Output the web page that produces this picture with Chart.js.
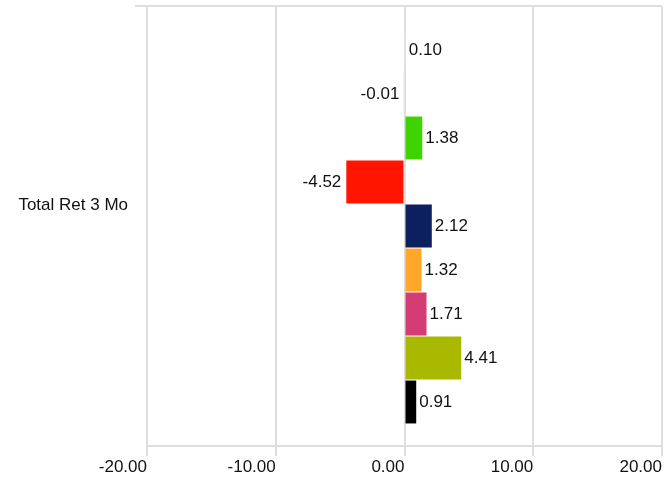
<!DOCTYPE html>
<html>
<head>
<meta charset="utf-8">
<script src="https://cdn.jsdelivr.net/npm/chart.js@4/dist/chart.umd.min.js"></script>
<style>
  html, body { margin: 0; padding: 0; background: #fff; }
  #wrap { width: 664px; height: 479px; }
</style>
</head>
<body>
<div id="wrap"><canvas id="retChart"></canvas></div>
<script>
// --- Data ---
const categories = ['Total Ret 3 Mo'];
const seriesValues = [0.10, -0.01, 1.38, -4.52, 2.12, 1.32, 1.71, 4.41, 0.91];
const seriesColors = ['#e6ecf4', '#e8e8e8', '#3fd400', '#ff1500', '#0c1f5e', '#ffa726', '#d43c74', '#a8b900', '#000000'];
const xTicks = [-20, -10, 0, 10, 20];

const FONT = "'Liberation Sans', Arial, sans-serif";
const TEXT = '#111111';

// --- Value labels next to each bar end ---
const valueLabels = {
    id: 'valueLabels',
    afterDatasetsDraw(chart) {
        const ctx = chart.ctx;
        ctx.save();
        ctx.font = '17px ' + FONT;
        ctx.fillStyle = TEXT;
        ctx.textBaseline = 'middle';
        chart.data.datasets.forEach((ds, i) => {
            const bar = chart.getDatasetMeta(i).data[0];
            const v = ds.data[0];
            if (v >= 0) {
                ctx.textAlign = 'left';
                ctx.fillText(v.toFixed(2), bar.x + 3, bar.y);
            } else {
                ctx.textAlign = 'right';
                ctx.fillText(v.toFixed(2), bar.x - 5, bar.y);
            }
        });
        ctx.restore();
    }
};

const datasets = seriesValues.map((v, i) => ({
    label: 'S' + (i + 1),
    data: [v],
    backgroundColor: seriesColors[i],
    borderWidth: 0,
    barPercentage: 0.975,
    categoryPercentage: 0.9
}));

new Chart(document.getElementById('retChart'), {
    type: 'bar',
    data: { labels: categories, datasets: datasets },
    options: {
        indexAxis: 'y',
        responsive: true,
        maintainAspectRatio: false,
        animation: false,
        layout: { padding: { left: 18, top: 6, right: 2, bottom: 0 } },
        plugins: {
            legend: { display: false },
            tooltip: { enabled: false }
        },
        scales: {
            x: {
                min: xTicks[0],
                max: xTicks[xTicks.length - 1],
                afterBuildTicks: (scale) => { scale.ticks = xTicks.map(v => ({ value: v })); },
                afterFit: (scale) => { scale.height = 33; scale.paddingLeft = 0; scale.paddingRight = 0; },
                grid: { color: '#dedede', lineWidth: 2, tickLength: 10 },
                border: { display: false },
                ticks: {
                    align: 'end',
                    padding: 1,
                    color: TEXT,
                    font: { family: FONT, size: 17 },
                    callback: (v) => Number(v).toFixed(2)
                }
            },
            y: {
                afterFit: (scale) => { scale.width = 129; scale.paddingTop = 0; scale.paddingBottom = 0; },
                grid: {
                    color: '#dedede',
                    lineWidth: 2,
                    tickLength: 12,
                    tickColor: (c) => c.index === 0 ? '#dedede' : 'rgba(0,0,0,0)'
                },
                border: { display: false },
                ticks: {
                    padding: 7,
                    labelOffset: -21,
                    color: TEXT,
                    font: { family: FONT, size: 17 }
                }
            }
        }
    },
    plugins: [valueLabels]
});
</script>
</body>
</html>
